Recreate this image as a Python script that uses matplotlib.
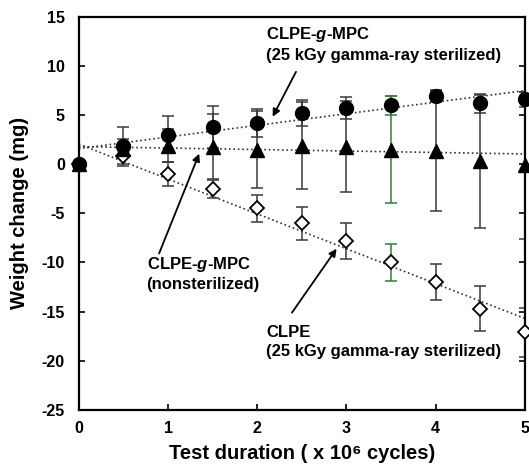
import numpy as np
import matplotlib
matplotlib.use("Agg")
import matplotlib.pyplot as plt

plt.rcParams['font.family'] = ['Liberation Sans', 'DejaVu Sans']
plt.rcParams['font.weight'] = 'bold'
plt.rcParams['mathtext.fontset'] = 'custom'
plt.rcParams['mathtext.it'] = 'Liberation Sans:italic:bold'
plt.rcParams['mathtext.rm'] = 'Liberation Sans:bold'
plt.rcParams['axes.unicode_minus'] = False

# test duration (x 10^6 cycles)
cycles = [0, 0.5, 1, 1.5, 2, 2.5, 3, 3.5, 4, 4.5, 5]

# CLPE-g-MPC, 25 kGy gamma-ray sterilized (filled circles)
mpc_ster = [0, 1.9, 3.0, 3.8, 4.2, 5.2, 5.7, 6.0, 6.9, 6.2, 6.6]
mpc_ster_err = [0, 1.9, 1.9, 2.1, 1.4, 1.3, 1.1, 1.0, 0.6, 1.0, 0.8]

# CLPE-g-MPC, nonsterilized (filled triangles)
mpc_non = [0, 1.6, 1.9, 1.8, 1.5, 1.9, 1.8, 1.5, 1.4, 0.3, -0.1]
mpc_non_err = [0, 1.0, 1.7, 3.3, 3.9, 4.4, 4.6, 5.4, 6.2, 6.8, 7.5]

# CLPE, 25 kGy gamma-ray sterilized (open diamonds)
clpe = [0, 0.8, -1.0, -2.5, -4.5, -6.0, -7.8, -10.0, -12.0, -14.7, -17.1]
clpe_err = [0, 0.95, 1.2, 0.9, 1.4, 1.7, 1.8, 1.9, 1.8, 2.3, 2.5]

# dotted trend lines (end points)
trend_x = [0, 5]
trend_ster = [1.6, 7.5]
trend_non = [1.8, 1.05]
trend_clpe = [2.05, -15.7]

fig = plt.figure(figsize=(5.29, 4.70), dpi=100)
ax = fig.add_axes([0.149, 0.128, 0.843, 0.836])

x = np.array(cycles)
green = x == 3.5

ax.plot(trend_x, trend_ster, ':', color='#333333', lw=1.2, zorder=1)
ax.plot(trend_x, trend_non, ':', color='#333333', lw=1.2, zorder=1)
ax.plot(trend_x, trend_clpe, ':', color='#333333', lw=1.2, zorder=1)

series = [
    (clpe, clpe_err, dict(marker='D', mfc='white', mec='black', ms=7.5, mew=1.3)),
    (mpc_non, mpc_non_err, dict(marker='^', mfc='black', mec='black', ms=10)),
    (mpc_ster, mpc_ster_err, dict(marker='o', mfc='black', mec='black', ms=10)),
]
for y, e, style in series:
    y = np.array(y)
    e = np.array(e)
    for mask, col in [(~green & (x > 0), '#3a3a3a'), (green, '#2e7d32')]:
        ax.errorbar(x[mask], y[mask], yerr=e[mask], fmt='none', ecolor=col,
                    elinewidth=1.1, capsize=4, capthick=1.1, zorder=2)
    ax.plot(x, y, linestyle='none', zorder=3, clip_on=False, **style)

ax.set_xlim(0, 5)
ax.set_ylim(-25, 15)
ax.set_xticks([0, 1, 2, 3, 4, 5])
ax.set_yticks([-25, -20, -15, -10, -5, 0, 5, 10, 15])
ax.tick_params(direction='in', right=True, top=False, length=4, width=1.2,
               labelsize=11.5)
ax.tick_params(axis='x', pad=8)
ax.tick_params(axis='y', pad=10)
for lab in ax.get_xticklabels() + ax.get_yticklabels():
    lab.set_fontweight('bold')
for sp in ax.spines.values():
    sp.set_linewidth(1.6)

ax.set_xlabel('Test duration ( x 10\u2076 cycles)', fontsize=14.5, fontweight='bold', labelpad=6)
ax.set_ylabel('Weight change (mg)', fontsize=14.5, fontweight='bold', labelpad=9)

fs = 12
labels = [
    ('CLPE-$g$-MPC\n(25 kGy gamma-ray sterilized)', (2.1, 12.25), (2.435, 9.41), (2.173, 4.84)),
    ('CLPE-$g$-MPC\n(nonsterilized)', (0.76, -11.1), (0.90, -9.08), (1.35, 1.08)),
    ('CLPE\n(25 kGy gamma-ray sterilized)', (2.1, -18.1), (2.39, -15.1), (2.89, -8.6)),
]
for txt, pos, tail, head in labels:
    ax.text(pos[0], pos[1], txt, fontsize=fs, fontweight='bold', ha='left', va='center',
            linespacing=1.3)
    ax.annotate('', xy=head, xytext=tail,
                arrowprops=dict(arrowstyle='-|>', color='black', lw=1.3, mutation_scale=11,
                                shrinkA=0, shrinkB=0))

fig.savefig('out.png', dpi=100)
